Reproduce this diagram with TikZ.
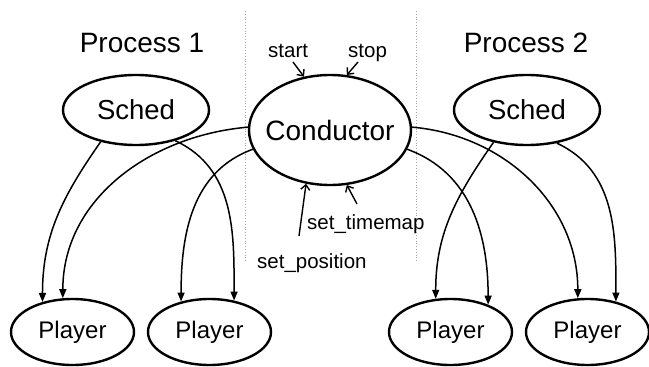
\documentclass[tikz,border=0pt]{standalone}
\usepackage{fontspec}
\setmainfont{Liberation Sans}
\usetikzlibrary{shapes.geometric,arrows.meta}
\begin{document}
\begin{tikzpicture}[x=1pt,y=-1pt,
  oval/.style={ellipse,draw=black,line width=2.4pt,inner sep=0pt},
  schedbox/.style={oval,minimum width=146pt,minimum height=70pt,font=\fontsize{27.5}{30}\selectfont},
  condbox/.style={oval,inner xsep=-7.5pt,minimum width=162pt,minimum height=110pt,font=\fontsize{28}{30}\selectfont},
  playerbox/.style={oval,minimum width=123pt,minimum height=66pt,font=\fontsize{24}{26}\selectfont},
  title/.style={font=\fontsize{28}{30}\selectfont,inner sep=0pt},
  lbl/.style={font=\fontsize{20.5}{22}\selectfont,inner sep=0pt},
  flow/.style={line width=1.5pt,-{Triangle[length=9pt,width=7pt]}},
  cmd/.style={line width=1.4pt,-{Straight Barb[length=5pt,width=9pt]}},
  sep/.style={gray!70,line width=0.8pt,dotted}]
\useasboundingbox (0,0) rectangle (649,367);
\fill[white] (0,0) rectangle (649,367);
% separators
\draw[sep] (245,11) -- (245,262);
\draw[sep] (416,11) -- (416,262);
% titles
\node[title] (t1) at (142,43) {Process 1};
\node[title] (t2) at (526,43) {Process 2};
% ellipses
\node[schedbox] (s1) at (136,110) {Sched};
\node[schedbox] (s2) at (527,110) {Sched};
\node[condbox] (c) at (330,130) {Conductor};
\node[playerbox] (p1) at (72.5,332) {Player};
\node[playerbox] (p2) at (209.5,332) {Player};
\node[playerbox] (p3) at (450.5,332) {Player};
\node[playerbox] (p4) at (587.5,332) {Player};
% labels
\node[lbl,anchor=base west] (lstart) at (268,57) {start};
\node[lbl,anchor=base west] (lstop) at (348,57) {stop};
\node[lbl,anchor=base west] (ltime) at (307,229) {set\_timemap};
\node[lbl,anchor=base west] (lpos) at (257,268) {set\_position};
\coordinate (aStart) at (293,62);
\coordinate (aStop) at (358,62);
\coordinate (aTime) at (357,204);
\coordinate (aPos) at (299,236);
\draw[cmd] (aStart) -- (c.116);
\draw[cmd] (aStop) -- (c.73);
\draw[cmd] (aTime) -- (c.287);
\draw[cmd] (aPos) -- (c.246);
% flows
\draw[flow] (s1.222) to[out=235,in=90] (p1.135.5);
\draw[flow] (s1.322) to[out=-25,in=90] (p2.52.4);
\draw[flow] (c.178) to[out=185,in=90] (p1.106);
\draw[flow] (c.194) to[out=200,in=90] (p2.133);
\draw[flow] (c.2) to[out=-5,in=90] (p4.106);
\draw[flow] (c.346) to[out=-20,in=90] (p3.36.1);
\draw[flow] (s2.224) to[out=235,in=90] (p3.114.3);
\draw[flow] (s2.312) to[out=-25,in=90] (p4.47);
\end{tikzpicture}
\end{document}
